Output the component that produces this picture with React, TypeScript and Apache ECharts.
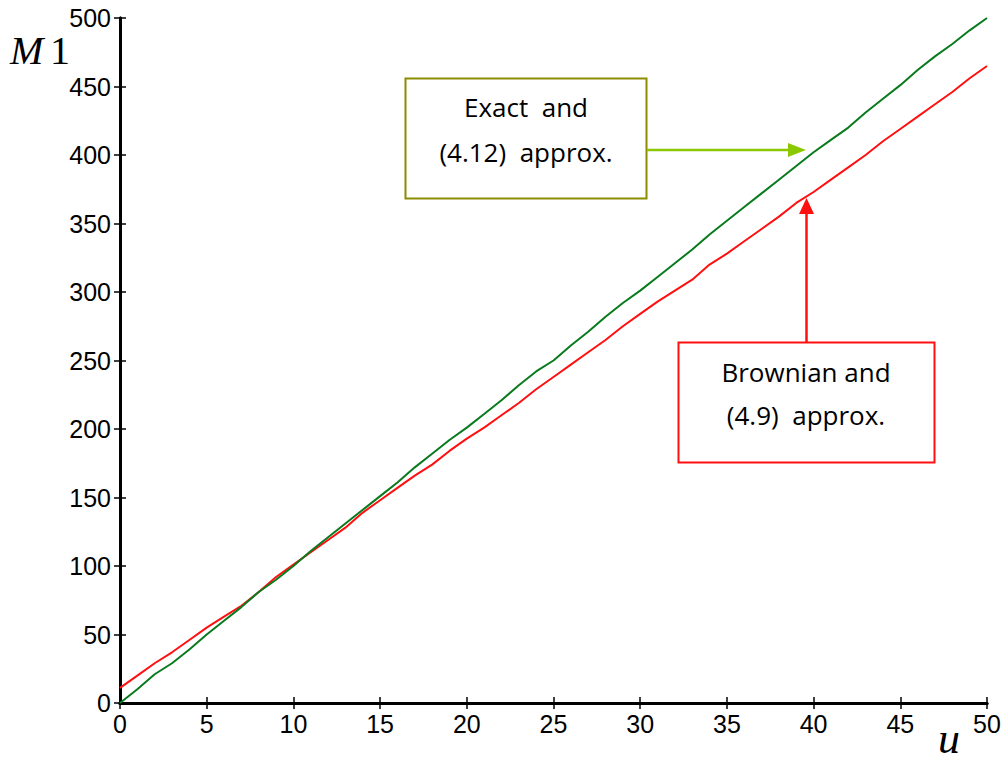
import React, { useEffect, useRef } from "react";
import * as echarts from "echarts";

const uValues = [
  0, 1, 2, 3, 4, 5, 6, 7, 8, 9, 10, 11, 12, 13, 14, 15, 16, 17, 18, 19, 20, 21, 22, 23, 24, 25,
  26, 27, 28, 29, 30, 31, 32, 33, 34, 35, 36, 37, 38, 39, 40, 41, 42, 43, 44, 45, 46, 47, 48, 49, 50,
];
const exactM1 = [
  0, 10, 21, 29, 39, 50, 60, 70, 81, 90, 100, 111, 121, 131, 141, 151, 161, 172, 182, 192, 201,
  211, 221, 232, 242, 250, 261, 271, 282, 292, 301, 311, 321, 331, 342, 352, 362, 372, 382, 392,
  402, 411, 420, 431, 441, 451, 462, 472, 481, 491, 500,
];
const brownianM1 = [
  11, 20, 29, 37, 46, 55, 63, 71, 81, 92, 101, 110, 119, 128, 139, 148, 157, 166, 174, 184, 193,
  201, 210, 219, 229, 238, 247, 256, 265, 275, 284, 293, 301, 309, 320, 328, 337, 346, 355, 365,
  373, 382, 391, 400, 410, 419, 428, 437, 446, 456, 465,
];
const xTicks = [0, 5, 10, 15, 20, 25, 30, 35, 40, 45, 50];
const yTicks = [0, 50, 100, 150, 200, 250, 300, 350, 400, 450, 500];

const exactLabel = ["Exact  and", "(4.12)  approx."];
const brownLabel = ["Brownian and", "(4.9)  approx."];

export default function App() {
  const ref = useRef<HTMLDivElement>(null);
  useEffect(() => {
    if (!ref.current) return;
    const chart = echarts.init(ref.current, null, { renderer: "svg" });
    const axisLine = { show: true, lineStyle: { color: "#000", width: 3 } };
    const tick = { show: true, inside: true, length: 6, lineStyle: { color: "#000", width: 1.5 } };
    const labelStyle = { color: "#000", fontSize: 25, fontFamily: "Liberation Sans, Arial, sans-serif" };
    const exactPts = uValues.map((u, i) => [u, exactM1[i]]);
    const brownPts = uValues.map((u, i) => [u, brownianM1[i]]);
    const textFont = "'Open Sans', 'Noto Sans', sans-serif";
    chart.setOption({
      animation: false,
      backgroundColor: "#fff",
      grid: { left: 120, right: 17, top: 18, bottom: 59, containLabel: false },
      xAxis: [
        {
          type: "value", min: 0, max: 50, interval: 5, position: "bottom",
          axisLine, axisTick: tick, splitLine: { show: false },
          axisLabel: { ...labelStyle, margin: 8, formatter: (v: number) => (xTicks.includes(v) ? String(v) : "") },
        },
        {
          type: "value", min: 0, max: 50, interval: 5, position: "top",
          axisLine, axisTick: tick, splitLine: { show: false }, axisLabel: { show: false },
        },
      ],
      yAxis: [
        {
          type: "value", min: 0, max: 500, interval: 50, position: "left",
          axisLine, axisTick: tick, splitLine: { show: false },
          axisLabel: { ...labelStyle, margin: 9, formatter: (v: number) => (yTicks.includes(v) ? String(v) : "") },
        },
        {
          type: "value", min: 0, max: 500, interval: 50, position: "right",
          axisLine, axisTick: tick, splitLine: { show: false }, axisLabel: { show: false },
        },
      ],
      series: [
        {
          name: "Exact", type: "line", data: exactPts, showSymbol: false,
          lineStyle: { color: "#0a7a1e", width: 2 }, z: 3,
        },
        {
          name: "Brownian", type: "line", data: brownPts, showSymbol: false,
          lineStyle: { color: "#ff1010", width: 2 }, z: 2,
        },
      ],
      graphic: [
        {
          type: "text", left: 10, top: 30,
          style: { text: "M", font: "italic 40px 'Liberation Serif', 'Times New Roman', serif", fill: "#000" },
        },
        {
          type: "text", left: 50, top: 30,
          style: { text: "1", font: "40px 'Liberation Serif', 'Times New Roman', serif", fill: "#000" },
        },
        {
          type: "text", left: 938, top: 716,
          style: { text: "u", font: "italic 44px 'Liberation Serif', 'Times New Roman', serif", fill: "#000" },
        },
        {
          type: "rect", shape: { x: 405.5, y: 78.5, width: 241, height: 120 },
          style: { fill: "#fff", stroke: "#8c8c00", lineWidth: 2 },
        },
        {
          type: "text", x: 526, y: 107,
          style: { text: exactLabel[0], font: `26px ${textFont}`, fill: "#000", align: "center", verticalAlign: "middle" },
        },
        {
          type: "text", x: 526, y: 152,
          style: { text: exactLabel[1], font: `26px ${textFont}`, fill: "#000", align: "center", verticalAlign: "middle" },
        },
        {
          type: "line", shape: { x1: 647, y1: 150, x2: 792, y2: 150 },
          style: { stroke: "#8cc800", lineWidth: 2.5 },
        },
        {
          type: "polygon", shape: { points: [[788, 143], [806, 150], [788, 157]] },
          style: { fill: "#8cc800" },
        },
        {
          type: "rect", shape: { x: 678.5, y: 342.5, width: 256, height: 120 },
          style: { fill: "#fff", stroke: "#ff1010", lineWidth: 2 },
        },
        {
          type: "text", x: 806, y: 372,
          style: { text: brownLabel[0], font: `26px ${textFont}`, fill: "#000", align: "center", verticalAlign: "middle" },
        },
        {
          type: "text", x: 806, y: 415,
          style: { text: brownLabel[1], font: `26px ${textFont}`, fill: "#000", align: "center", verticalAlign: "middle" },
        },
        {
          type: "line", shape: { x1: 806.5, y1: 342, x2: 806.5, y2: 212 },
          style: { stroke: "#ff1010", lineWidth: 2.5 },
        },
        {
          type: "polygon", shape: { points: [[799, 214], [806.5, 198], [814, 214]] },
          style: { fill: "#ff1010" },
        },
      ],
    });
    return () => chart.dispose();
  }, []);
  return (
    <div
      ref={ref}
      style={{ position: "fixed", left: 0, top: 0, width: 1004, height: 762, background: "#fff" }}
    />
  );
}
